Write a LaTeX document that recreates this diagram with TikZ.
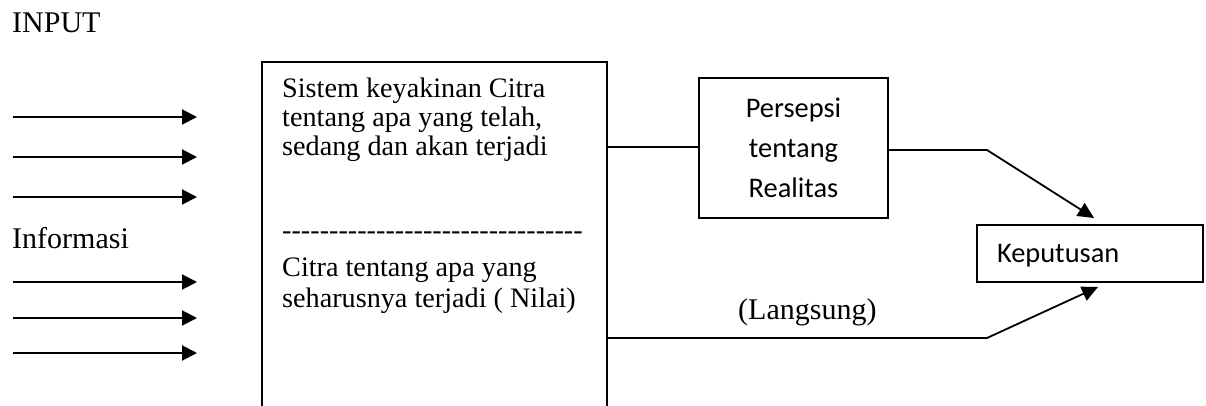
\documentclass[tikz,border=0pt]{standalone}
\usepackage{fontspec}
\setmainfont{Liberation Serif}
\newfontfamily\calfont{Carlito}
\usetikzlibrary{arrows.meta}
\begin{document}
\begin{tikzpicture}[x=1pt,y=-1pt,
  line/.style={line width=1.8pt},
  inarr/.style={line width=2pt,-{Triangle[length=15pt,width=15pt]}},
  darr/.style={line width=1.8pt,-{Triangle[length=16pt,width=15pt]}},
  big/.style={font=\fontsize{30}{34}\selectfont, inner sep=0pt, anchor=base west},
  boxtxt/.style={font=\fontsize{28.2}{30}\selectfont, inner sep=0pt, anchor=base west},
  cbox/.style={draw, line width=1.8pt, font=\calfont\fontsize{28.4}{40}\selectfont}
]
\useasboundingbox (0,0) rectangle (1206,406);
% labels
\node[big] (input) at (12,33) {INPUT};
\node[big] (info) at (12,248) {Informasi};
% input arrows
\foreach \n/\y in {1/117,2/157,3/197,4/282,5/318,6/353}{
  \coordinate (s\n) at (13,\y);
  \coordinate (e\n) at (197,\y);
  \draw[inarr] (s\n) -- (e\n);
}
% big box (open at bottom)
\coordinate (bl) at (262,406);
\coordinate (tl) at (262,62);
\coordinate (tr) at (607,62);
\coordinate (br) at (607,406);
\draw[line] (bl) -- (tl) -- (tr) -- (br);
\node[boxtxt] (t1) at (282,98) {Sistem keyakinan Citra};
\node[boxtxt] (t2) at (282,127) {tentang apa yang telah,};
\node[boxtxt] (t3) at (282,156) {sedang dan akan terjadi};
\node[boxtxt] (t4) at (282,239) {{-}{-}{-}{-}{-}{-}{-}{-}{-}{-}{-}{-}{-}{-}{-}{-}{-}{-}{-}{-}{-}{-}{-}{-}{-}{-}{-}{-}{-}{-}{-}{-}};
\node[boxtxt] (t5) at (282,276) {Citra tentang apa yang};
\node[boxtxt] (t6) at (282,307) {seharusnya terjadi ( Nilai)};
% Persepsi box
\node[cbox, minimum width=189pt, minimum height=140pt, inner sep=0pt, align=center] (P) at (793.5,148) {Persepsi\\tentang\\Realitas};
% Keputusan box
\node[cbox, minimum height=57pt, inner xsep=20pt, inner ysep=0pt, text width=186pt, text depth=0pt, align=left] (K) at (1090,253.5) {Keputusan};
% connectors
\coordinate (b1) at (607,147);
\draw[line] (b1) -- (P.west |- b1);
\coordinate (m1) at (987,150);
\coordinate (k1) at (1094,218);
\draw[darr] (P.east |- m1) -- (m1) -- (k1);
\coordinate (b2) at (607,338);
\coordinate (m2) at (987,338);
\coordinate (k2) at (1098,287);
\draw[darr] (b2) -- (m2) -- (k2);
\node[big] (lang) at (738,319) {(Langsung)};
\end{tikzpicture}
\end{document}
